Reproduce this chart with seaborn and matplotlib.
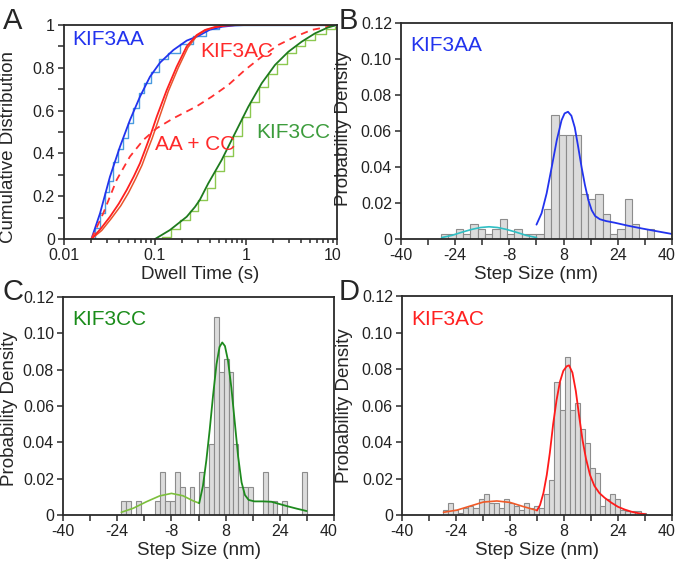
import numpy as np
import pandas as pd
import matplotlib
matplotlib.use("Agg")
import matplotlib.pyplot as plt
import matplotlib.transforms as mtransforms
from matplotlib.ticker import FixedLocator, NullFormatter, LogLocator
import seaborn as sns

# ---- Panel A: cumulative dwell-time distributions ----
aa_t = [0.02, 0.0249, 0.032, 0.0412, 0.0531, 0.0684, 0.088, 0.1135, 0.159, 0.223, 0.297, 0.40, 0.55, 0.75, 1.0, 10]
aa_F = [0, 0.12, 0.291, 0.431, 0.556, 0.665, 0.758, 0.824, 0.883, 0.927, 0.948, 0.978, 0.992, 0.998, 1.0, 1.0]
aa_data_t = [0.02, 0.022, 0.025, 0.028, 0.031, 0.035, 0.039, 0.044, 0.05, 0.057, 0.066, 0.076, 0.09, 0.11, 0.14, 0.19, 0.26, 0.36, 0.5, 10]
aa_data_F = [0, 0.05, 0.12, 0.22, 0.27, 0.36, 0.42, 0.47, 0.54, 0.61, 0.68, 0.73, 0.78, 0.84, 0.87, 0.91, 0.95, 0.98, 1.0, 1.0]

ac_t = [0.02, 0.025, 0.032, 0.04, 0.0489, 0.0584, 0.0684, 0.078, 0.088, 0.1044, 0.1346, 0.173, 0.223, 0.287, 0.355, 0.45, 0.6, 0.8, 10]
ac_F = [0, 0.045, 0.104, 0.165, 0.229, 0.292, 0.354, 0.418, 0.478, 0.571, 0.696, 0.805, 0.9, 0.953, 0.977, 0.99, 0.997, 1.0, 1.0]
ac_data_t = [0.02, 0.026, 0.033, 0.042, 0.051, 0.061, 0.072, 0.082, 0.093, 0.11, 0.14, 0.18, 0.23, 0.29, 0.36, 0.46, 0.6, 10]
ac_data_F = [0, 0.04, 0.095, 0.155, 0.215, 0.28, 0.345, 0.41, 0.47, 0.56, 0.69, 0.80, 0.895, 0.95, 0.976, 0.99, 1.0, 1.0]

mix_t = [0.02, 0.027, 0.0379, 0.053, 0.0745, 0.104, 0.159, 0.287, 0.42, 0.64, 0.975, 1.49, 2.27, 3.45, 5.27, 8.75, 10]
mix_F = [0, 0.12, 0.276, 0.385, 0.463, 0.517, 0.564, 0.62, 0.665, 0.72, 0.79, 0.852, 0.907, 0.945, 0.977, 0.995, 1.0]

cc_t = [0.1, 0.146, 0.223, 0.275, 0.31, 0.385, 0.54, 0.757, 1.06, 1.49, 2.08, 2.92, 4.09, 5.73, 8.0, 10]
cc_F = [0, 0.042, 0.104, 0.15, 0.182, 0.26, 0.369, 0.494, 0.618, 0.728, 0.813, 0.875, 0.922, 0.961, 0.989, 1.0]
cc_data_t = [0.1, 0.12, 0.15, 0.19, 0.24, 0.3, 0.37, 0.46, 0.58, 0.72, 0.9, 1.12, 1.4, 1.75, 2.2, 2.8, 3.5, 4.5, 5.8, 7.5, 9.5, 10]
cc_data_F = [0, 0.01, 0.045, 0.09, 0.13, 0.18, 0.24, 0.32, 0.39, 0.48, 0.57, 0.64, 0.71, 0.77, 0.82, 0.87, 0.9, 0.93, 0.96, 0.98, 0.99, 1.0]

# ---- Panel B: KIF3AA step sizes ----
b_start, b_width = -28.21, 2.17
b_heights = [0.0028, 0.0028, 0.0055, 0.0028, 0.0082, 0.0055, 0.0028, 0.0055, 0.011, 0.0028,
             0.0055, 0.0028, 0.0028, 0.0028, 0.0165, 0.0688, 0.0578, 0.0578, 0.0578, 0.0248,
             0.022, 0.0248, 0.0138, 0.0028, 0.0055, 0.022, 0.0082, 0.0, 0.0055]
b_back_x = [-28, -25, -22, -19, -16.5, -14, -11.5, -9, -6, -3, 0]
b_back_y = [0.0008, 0.0020, 0.0038, 0.0054, 0.0064, 0.0068, 0.0064, 0.0054, 0.0038, 0.0020, 0.0008]
b_fwd_x = [0.0, 1.5, 3.0, 4.5, 6.0, 7.4, 8.3, 9.3, 10.3, 11.3, 12.3, 13.3, 14.3, 15.3, 16.3, 17.3,
           18.7, 20.5, 23, 27, 31, 35, 40]
b_fwd_y = [0.008, 0.0143, 0.0254, 0.040, 0.055, 0.066, 0.0698, 0.0707, 0.0685, 0.062, 0.0513, 0.040,
           0.030, 0.0217, 0.016, 0.0128, 0.011, 0.010, 0.0091, 0.0074, 0.0059, 0.0045, 0.0028]

# ---- Panel C: KIF3CC step sizes ----
c_start, c_width = -22.8, 1.44
c_heights = [0.0078, 0.0078, 0.0, 0.0078, 0.0, 0.0, 0.0, 0.0078, 0.0235, 0.0078,
             0.0078, 0.0235, 0.0156, 0.0, 0.0156, 0.0, 0.0235, 0.0156, 0.039, 0.109,
             0.0788, 0.0861, 0.0788, 0.039, 0.0156, 0.0156, 0.0156, 0.0, 0.0, 0.0235,
             0.0078, 0.0078, 0.0, 0.0078, 0.0, 0.0, 0.0, 0.0235]
c_back_x = [-22.8, -19.3, -15.4, -11.5, -8.0, -4.6, -1.6, 0.2]
c_back_y = [0.0015, 0.0037, 0.0073, 0.0105, 0.0119, 0.0106, 0.0078, 0.0065]
c_fwd_x = [0.2, 1.3, 2.3, 3.3, 4.3, 5.3, 6.2, 7.0, 7.8, 8.7, 9.7, 10.7, 11.7, 12.7, 13.7, 14.8,
           16.5, 19.0, 21.5, 24.0, 26.5, 29.0, 31.9]
c_fwd_y = [0.0065, 0.016, 0.030, 0.047, 0.066, 0.083, 0.0925, 0.095, 0.093, 0.085, 0.070, 0.051,
           0.032, 0.018, 0.011, 0.0083, 0.0075, 0.0075, 0.0073, 0.006, 0.0047, 0.0035, 0.0022]

# ---- Panel D: KIF3AC step sizes ----
d_start, d_width = -27.83, 1.5
d_heights = [0.0027, 0.0066, 0.0025, 0.0013, 0.0040, 0.0052, 0.0038, 0.0088, 0.0113, 0.0066,
             0.0066, 0.0040, 0.0088, 0.0066, 0.0052, 0.0025, 0.0066, 0.0040, 0.0052, 0.0038,
             0.0113, 0.0192, 0.0728, 0.0575, 0.0868, 0.0575, 0.0612, 0.0472, 0.0392, 0.0256,
             0.0228, 0.0052, 0.0088, 0.0113, 0.0088, 0.0027, 0.0024, 0.0024, 0.0024, 0.0013]
d_back_x = [-27.7, -23.7, -19.8, -15.9, -11.9, -8.0, -4.0, 0.0]
d_back_y = [0.0015, 0.0027, 0.0049, 0.0071, 0.0077, 0.0069, 0.0046, 0.0025]
d_fwd_x = [0.0, 0.9, 1.9, 2.9, 3.8, 4.8, 5.8, 6.8, 7.8, 8.8, 9.5, 10.5, 11.5, 12.5, 13.5, 14.5,
           15.7, 17.0, 18.5, 20.0, 22.0, 24.0, 26.0, 28.0, 30.0, 32.2]
d_fwd_y = [0.0025, 0.0055, 0.012, 0.022, 0.034, 0.050, 0.063, 0.073, 0.079, 0.0815, 0.082, 0.078,
           0.068, 0.054, 0.041, 0.031, 0.022, 0.016, 0.012, 0.0095, 0.0068, 0.0045, 0.003, 0.0018,
           0.001, 0.0004]

sns.set_theme(style="ticks")
plt.rcParams["font.family"] = ["Liberation Sans", "DejaVu Sans"]
plt.rcParams["axes.linewidth"] = 1.3
plt.rcParams["axes.edgecolor"] = "#2a2a2a"

fig = plt.figure(figsize=(6.77, 5.62), dpi=100)
axA = fig.add_axes([0.0945, 0.5747, 0.4033, 0.3808])
axB = fig.add_axes([0.5923, 0.5747, 0.4003, 0.3843])
axC = fig.add_axes([0.0931, 0.0836, 0.4003, 0.3879])
axD = fig.add_axes([0.5938, 0.0836, 0.3988, 0.3897])

TICK_FS = 11.5
LABEL_FS = 13.5


def style_box(ax):
    for s in ax.spines.values():
        s.set_visible(True)
        s.set_linewidth(1.3)
        s.set_color("#2a2a2a")
    ax.tick_params(which="both", direction="out", width=1.1, colors="#2a2a2a",
                   labelsize=TICK_FS, labelcolor="#222222", pad=2)
    ax.tick_params(which="major", length=4.5)
    ax.tick_params(which="minor", length=3)


# Panel A: light lines are the measured distributions, dark lines the fits
lw = 1.3
sns.lineplot(x=aa_data_t, y=aa_data_F, ax=axA, color="#4a9be0", linewidth=1.0,
             drawstyle="steps-post", estimator=None, sort=False)
sns.lineplot(x=aa_t, y=aa_F, ax=axA, color="#2233ee", linewidth=lw, estimator=None, sort=False)
sns.lineplot(x=ac_data_t, y=ac_data_F, ax=axA, color="#e8542c", linewidth=1.1, estimator=None, sort=False)
sns.lineplot(x=ac_t, y=ac_F, ax=axA, color="#ff2020", linewidth=lw, estimator=None, sort=False)
sns.lineplot(x=mix_t, y=mix_F, ax=axA, color="#ff3030", linewidth=lw, linestyle=(0, (4, 3)),
             estimator=None, sort=False)
sns.lineplot(x=cc_data_t, y=cc_data_F, ax=axA, color="#8cc850", linewidth=1.0,
             drawstyle="steps-post", estimator=None, sort=False)
sns.lineplot(x=cc_t, y=cc_F, ax=axA, color="#1e7b1e", linewidth=lw, estimator=None, sort=False)
axA.set_xscale("log")
axA.set_xlim(0.01, 10)
axA.set_ylim(0, 1)
axA.xaxis.set_major_locator(FixedLocator([0.01, 0.1, 1, 10]))
axA.set_xticklabels(["0.01", "0.1", "1", "10"])
axA.xaxis.set_minor_locator(LogLocator(base=10, subs=np.arange(2, 10)))
axA.xaxis.set_minor_formatter(NullFormatter())
axA.yaxis.set_major_locator(FixedLocator([0, 0.2, 0.4, 0.6, 0.8, 1.0]))
axA.set_yticklabels(["0", "0.2", "0.4", "0.6", "0.8", "1"])
axA.yaxis.set_minor_locator(FixedLocator([0.1, 0.3, 0.5, 0.7, 0.9]))
style_box(axA)
axA.tick_params(axis="y", which="minor", length=4.5)
axA.set_xlabel("Dwell Time (s)", fontsize=LABEL_FS)
axA.set_ylabel("Cumulative Distribution", fontsize=LABEL_FS)
axA.xaxis.set_label_coords(0.5, -0.125)
axA.yaxis.set_label_coords(-0.172, 0.43)
axA.text(0.03, 0.93, "KIF3AA", transform=axA.transAxes, color="#2233ee", fontsize=15, va="center")
axA.text(0.50, 0.875, "KIF3AC", transform=axA.transAxes, color="#ff2a2a", fontsize=15, va="center")
axA.text(0.335, 0.44, "AA + CC", transform=axA.transAxes, color="#ff2a2a", fontsize=15, va="center")
axA.text(0.705, 0.50, "KIF3CC", transform=axA.transAxes, color="#3c9c3c", fontsize=15, va="center")
labA = axA.get_xticklabels()
labA[-1].set_transform(labA[-1].get_transform() + mtransforms.ScaledTranslation(-4 / 100, 0, fig.dpi_scale_trans))


def step_panel(ax, start, width, heights, back_x, back_y, back_color, fwd_x, fwd_y, fwd_color,
               name, name_color, ylab_x, ylab_y):
    edges = start + width * np.arange(len(heights) + 1)
    bars = pd.DataFrame({"step": edges[:-1] + width / 2, "density": heights})
    sns.histplot(data=bars, x="step", weights="density", bins=list(edges), ax=ax, stat="count",
                 color="#dcdcdc", edgecolor="#8c8c8c", linewidth=0.8, alpha=1)
    sns.lineplot(x=back_x, y=back_y, ax=ax, color=back_color, linewidth=1.2,
                 estimator=None, sort=False)
    sns.lineplot(x=fwd_x, y=fwd_y, ax=ax, color=fwd_color, linewidth=1.3,
                 estimator=None, sort=False)
    ax.set_xlim(-40, 40)
    ax.set_ylim(0, 0.12)
    ax.xaxis.set_major_locator(FixedLocator([-40, -24, -8, 8, 24, 40]))
    ax.set_xticklabels(["-40", "-24", "-8", "8", "24", "40"])
    ax.xaxis.set_minor_locator(FixedLocator([-32, -16, 0, 16, 32]))
    ax.yaxis.set_major_locator(FixedLocator([0, 0.02, 0.04, 0.06, 0.08, 0.10, 0.12]))
    ax.set_yticklabels(["0", "0.02", "0.04", "0.06", "0.08", "0.10", "0.12"])
    style_box(ax)
    ax.tick_params(axis="x", which="minor", length=4.5)
    ax.set_xlabel("Step Size (nm)", fontsize=LABEL_FS)
    ax.set_ylabel("Probability Density", fontsize=LABEL_FS)
    ax.xaxis.set_label_coords(0.5, -0.125)
    ax.yaxis.set_label_coords(ylab_x, ylab_y)
    ax.text(0.035, 0.895, name, transform=ax.transAxes, color=name_color, fontsize=15, va="center")
    labs = ax.get_xticklabels()
    labs[-1].set_transform(labs[-1].get_transform() + mtransforms.ScaledTranslation(-5 / 100, 0, fig.dpi_scale_trans))


step_panel(axB, b_start, b_width, b_heights, b_back_x, b_back_y, "#2fbfc4",
           b_fwd_x, b_fwd_y, "#2233ee", "KIF3AA", "#2233ee", -0.182, 0.51)
step_panel(axC, c_start, c_width, c_heights, c_back_x, c_back_y, "#7cbf3c",
           c_fwd_x, c_fwd_y, "#1e8a1e", "KIF3CC", "#1a8c1a", -0.168, 0.49)
step_panel(axD, d_start, d_width, d_heights, d_back_x, d_back_y, "#f05a28",
           d_fwd_x, d_fwd_y, "#ff1a1a", "KIF3AC", "#ff2020", -0.182, 0.50)

# panel letters
fig.text(0.004, 0.987, "A", fontsize=21, va="top", ha="left")
fig.text(0.500, 0.987, "B", fontsize=21, va="top", ha="left")
fig.text(0.004, 0.505, "C", fontsize=21, va="top", ha="left")
fig.text(0.500, 0.505, "D", fontsize=21, va="top", ha="left")

fig.savefig("out.png", dpi=100, facecolor="white")
